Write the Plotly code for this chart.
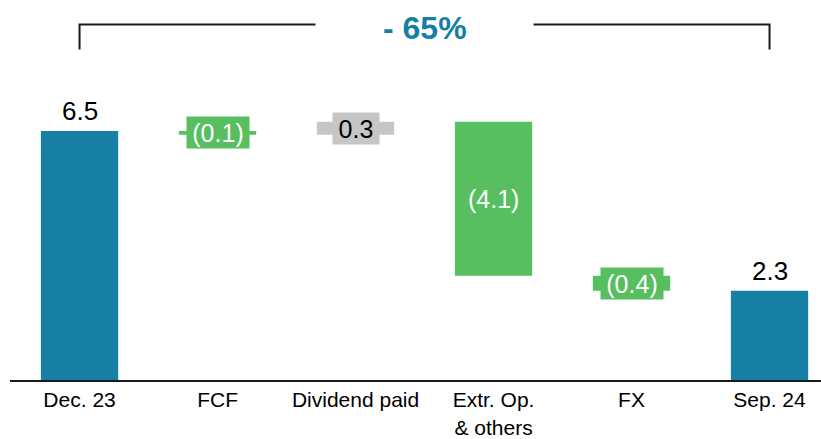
import plotly.graph_objects as go

categories = ["Dec. 23", "FCF", "Dividend paid", "Extr. Op.<br>& others", "FX", "Sep. 24"]
values = [6.5, -0.1, 0.34, -4.02, -0.39, 2.33]
kinds = ["total", "delta", "delta", "delta", "delta", "total"]
labels = ["6.5", "(0.1)", "0.3", "(4.1)", "(0.4)", "2.3"]
bar_colors = ["#167fa3", "#57bf5f", "#c6c6c6", "#57bf5f", "#57bf5f", "#167fa3"]
label_colors = ["black", "white", "black", "white", "white", "black"]
change_text = "- 65%"

FONT = "Liberation Sans, Arial, sans-serif"

# compute bases / heights
bases, heights = [], []
running = 0.0
for v, k in zip(values, kinds):
    if k == "total":
        bases.append(0.0)
        heights.append(v)
        running = v
    else:
        new = running + v
        bases.append(min(running, new))
        heights.append(abs(v))
        running = new

x_idx = list(range(len(categories)))

fig = go.Figure()
fig.add_trace(go.Bar(
    x=x_idx, y=heights, base=bases, width=0.56,
    marker=dict(color=bar_colors, line=dict(width=0)),
    hoverinfo="skip", showlegend=False,
))

annotations = []
box_w = {1: 62, 2: 46, 4: 62}
for i, (k, lab) in enumerate(zip(kinds, labels)):
    if k == "total":
        annotations.append(dict(
            x=i, y=bases[i] + heights[i], xref="x", yref="y",
            text=lab, showarrow=False, yanchor="bottom", yshift=3,
            font=dict(family=FONT, size=26, color=label_colors[i]),
        ))
    else:
        mid = bases[i] + heights[i] / 2
        a = dict(
            x=i, y=mid, xref="x", yref="y", text=lab, showarrow=False,
            xanchor="center", yanchor="middle",
            font=dict(family=FONT, size=25, color=label_colors[i]),
        )
        if i in box_w:
            a.update(bgcolor=bar_colors[i], width=box_w[i], height=31, borderpad=0)
        annotations.append(a)

# bracket showing total change
y_top = 9.28
y_bot = 8.63
annotations.append(dict(
    x=2.5, y=9.2, xref="x", yref="y", text="<b>" + change_text + "</b>",
    showarrow=False, font=dict(family=FONT, size=32, color="#167fa3"),
))
line = dict(color="#1a1a1a", width=2)
shapes = [
    dict(type="path", xref="x", yref="y",
         path=f"M 0,{y_bot} L 0,{y_top} L 1.71,{y_top}", line=line),
    dict(type="path", xref="x", yref="y",
         path=f"M 3.29,{y_top} L 5,{y_top} L 5,{y_bot}", line=line),
]

fig.update_layout(
    width=821, height=439,
    margin=dict(l=10, r=0, t=0, b=56),
    paper_bgcolor="white", plot_bgcolor="white",
    bargap=0.44,
    annotations=annotations, shapes=shapes,
    xaxis=dict(
        range=[-0.504, 5.373], tickmode="array", tickvals=x_idx, ticktext=categories,
        showline=True, linecolor="#1a1a1a", linewidth=2, showgrid=False, zeroline=False,
        ticks="", tickfont=dict(family=FONT, size=21, color="black"),
        fixedrange=True,
    ),
    yaxis=dict(
        range=[0, 9.92], showticklabels=False, showgrid=False, zeroline=False,
        showline=False, fixedrange=True,
    ),
)

fig.write_html(
    "out.html",
    config={"displayModeBar": False},
    post_script="document.body.style.margin='0';document.body.style.overflow='hidden';",
)
